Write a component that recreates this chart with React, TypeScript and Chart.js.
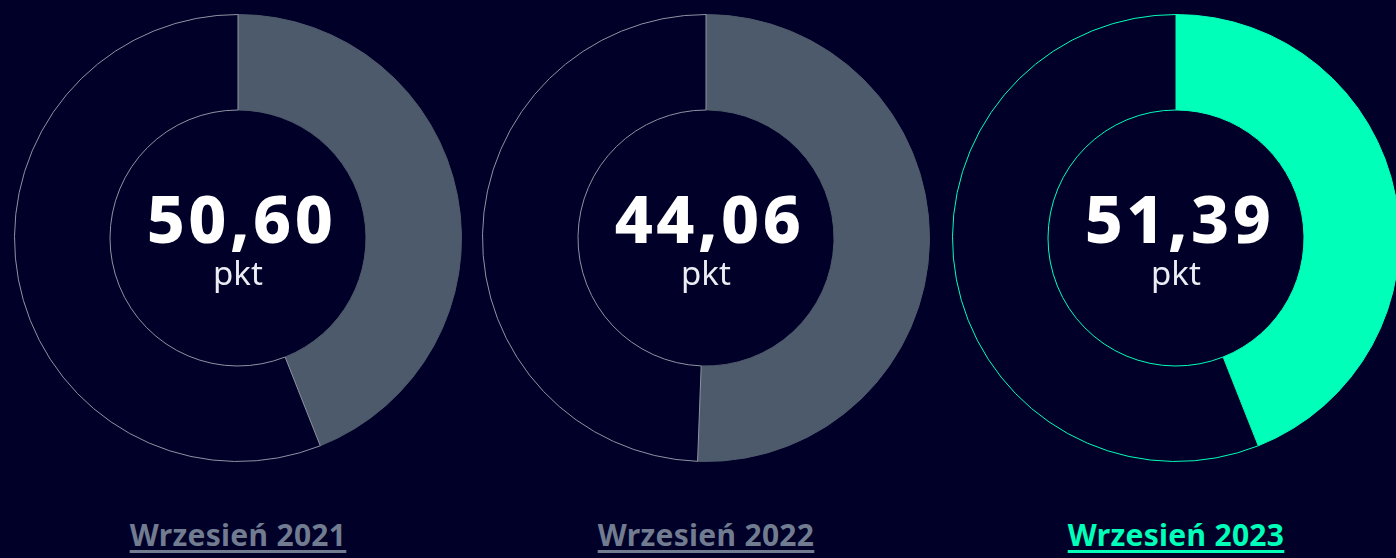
import React, { useEffect, useRef } from "react";
import { Chart, registerables } from "chart.js";

Chart.register(...registerables);

const periods: string[] = ["Wrzesień 2021", "Wrzesień 2022", "Wrzesień 2023"];
const scores: number[] = [50.6, 44.06, 51.39];
const ringShares: number[] = [44.0, 50.6, 44.0];
const unitLabel = "pkt";
const highlighted: boolean[] = [false, false, true];

const BG = "#000028";
const GREY_FILL = "#4d5a6b";
const GREY_LINE = "#8e93a2";
const GREY_TEXT = "#717c90";
const TEAL = "#00ffb9";

const centersX = [238, 706, 1176];
const centerY = 238;
const SIZE = 480;

function Donut({ idx }: { idx: number }) {
  const ref = useRef<HTMLCanvasElement | null>(null);
  useEffect(() => {
    if (!ref.current) return;
    const hl = highlighted[idx];
    const fill = hl ? TEAL : GREY_FILL;
    const line = hl ? TEAL : GREY_LINE;
    const share = ringShares[idx];
    const chart = new Chart(ref.current, {
      type: "doughnut",
      data: {
        labels: ["wynik", "reszta"],
        datasets: [
          {
            data: [share, 100 - share],
            backgroundColor: [fill, BG],
            borderColor: [fill, line],
            borderWidth: 1,
            hoverBorderWidth: 1,
          },
        ],
      },
      options: {
        responsive: false,
        animation: false,
        cutout: 128,
        rotation: 0,
        layout: { padding: 16 },
        plugins: {
          legend: { display: false },
          tooltip: { enabled: false },
        },
        events: [],
      },
    });
    return () => chart.destroy();
  }, [idx]);

  const cx = centersX[idx];
  const hl = highlighted[idx];
  const scoreText = scores[idx].toFixed(2).replace(".", ",");
  return (
    <>
      <div
        style={{
          position: "absolute",
          left: cx - SIZE / 2,
          top: centerY - SIZE / 2,
          width: SIZE,
          height: SIZE,
        }}
      >
        <canvas ref={ref} width={SIZE} height={SIZE} style={{ display: "block" }} />
      </div>
      <div
        style={{
          position: "absolute",
          left: cx - 200,
          width: 400,
          top: 184,
          textAlign: "center",
          fontFamily: "'Noto Sans', sans-serif",
          fontWeight: 800,
          fontSize: 66,
          lineHeight: "66px",
          letterSpacing: "3.5px",
          paddingLeft: 3.5,
          color: "#ffffff",
          whiteSpace: "nowrap",
        }}
      >
        {scoreText}
      </div>
      <div
        style={{
          position: "absolute",
          left: cx - 200,
          width: 400,
          top: 256,
          textAlign: "center",
          fontFamily: "'Noto Sans', sans-serif",
          fontWeight: 400,
          fontSize: 33,
          lineHeight: "33px",
          color: "#ececf4",
          whiteSpace: "nowrap",
        }}
      >
        {unitLabel}
      </div>
      <div
        style={{
          position: "absolute",
          left: cx - 200,
          width: 400,
          top: 520,
          textAlign: "center",
          fontFamily: "'Noto Sans', sans-serif",
          fontWeight: 700,
          fontSize: 30,
          lineHeight: "30px",
          letterSpacing: "0.3px",
          color: hl ? TEAL : GREY_TEXT,
          whiteSpace: "nowrap",
        }}
      >
        <span
          style={{
            textDecoration: "underline",
            textDecorationThickness: "3px",
            textUnderlineOffset: "4px",
          }}
        >
          {periods[idx]}
        </span>
      </div>
    </>
  );
}

export default function App() {
  return (
    <div
      style={{
        position: "fixed",
        left: 0,
        top: 0,
        width: 1396,
        height: 558,
        background: BG,
        overflow: "hidden",
      }}
    >
      {periods.map((_, i) => (
        <Donut key={i} idx={i} />
      ))}
    </div>
  );
}
